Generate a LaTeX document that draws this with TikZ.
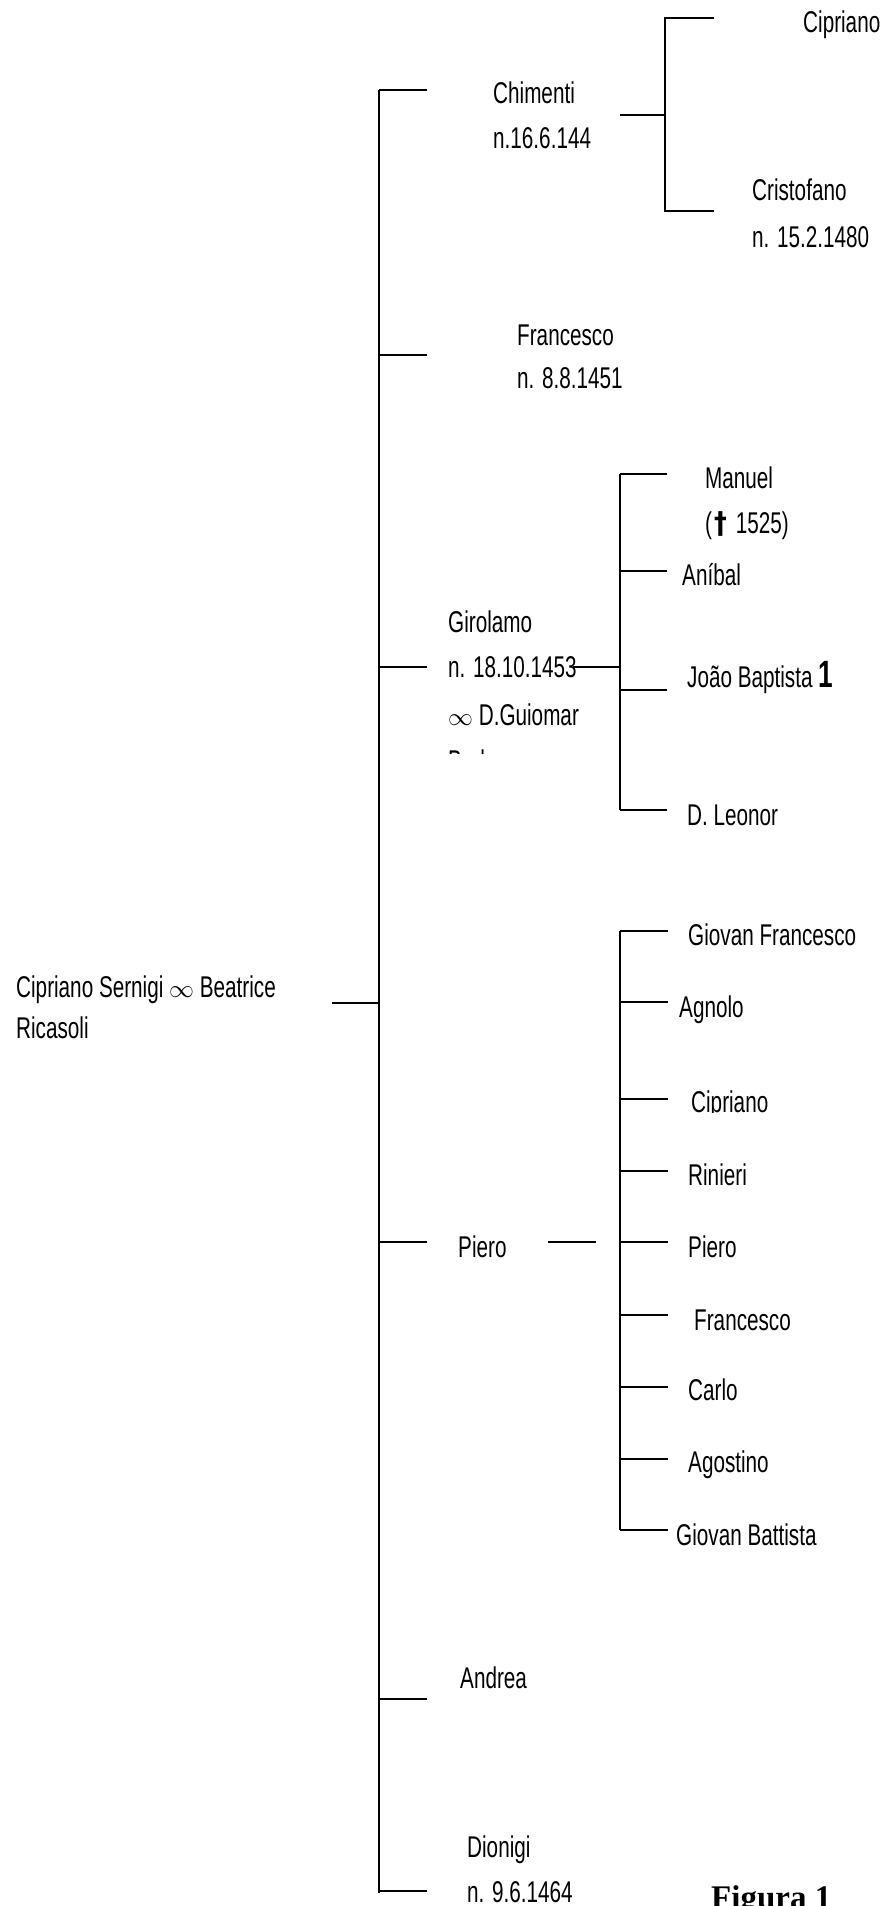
\documentclass[tikz,border=0pt]{standalone}
\usepackage{fontspec}
\setmainfont[FakeStretch=0.69]{Liberation Sans}
\newfontfamily\figfont{Liberation Serif}
\newfontfamily\crossfont[FakeStretch=0.85]{DejaVu Sans}
\begin{document}
\begin{tikzpicture}[x=1pt,y=-1pt,
  lbl/.style={anchor=base west, inner sep=0pt, font=\fontsize{30}{45}\selectfont},
  ln/.style={line width=1.6pt},
  vln/.style={line width=2pt}]
\useasboundingbox (0,0) rectangle (893,1906);

% ---------- texts ----------
\node[lbl] (root)  at (16,997)  {Cipriano Sernigi $\infty$ Beatrice};
\node[lbl] (rootb) at (16,1038) {Ricasoli};

\node[lbl] (chim)  at (493,103) {Chimenti};
\node[lbl] (chimb) at (493,148) {n.16.6.144};
\node[lbl] (cip1)  at (803,32)  {Cipriano};
\node[lbl] (cris)  at (752,200) {Cristofano};
\node[lbl] (crisb) at (752,247) {n. 15.2.1480};

\node[lbl] (fra)   at (517,345) {Francesco};
\node[lbl] (frab)  at (517,388) {n. 8.8.1451};

\node[lbl] (man)   at (705,488) {Manuel};
\node[lbl] (manb)  at (705,533) {(\kern2pt{\crossfont\bfseries\fontsize{30}{30}\selectfont †}\kern9pt 1525)};
\node[lbl] (ani)   at (682,585) {Aníbal};
\node[lbl] (gir)   at (448,632) {Girolamo};
\node[lbl] (girb)  at (448,677) {n. 18.10.1453};
\node[lbl] (girc)  at (448,725) {$\infty$ D.Guiomar};
\begin{scope}
  \clip (440,735) rectangle (620,753);
  \node[lbl] (gird) at (448,771) {Barbosa};
\end{scope}
\node[lbl] (joao)  at (687,687) {João Baptista {\bfseries\fontsize{38}{38}\selectfont 1}};
\node[lbl] (leo)   at (687,825) {D. Leonor};

\node[lbl] (pie)   at (458,1257) {Piero};
\node[lbl] (gf)    at (688,945)  {Giovan Francesco};
\node[lbl] (agn)   at (679,1017) {Agnolo};
\begin{scope}
  \clip (670,1070) rectangle (800,1112);
  \node[lbl] (cip2) at (691,1112) {Cipriano};
\end{scope}
\node[lbl] (rin)   at (688,1185) {Rinieri};
\node[lbl] (pie2)  at (688,1257) {Piero};
\node[lbl] (fra2)  at (694,1330) {Francesco};
\node[lbl] (car)   at (688,1400) {Carlo};
\node[lbl] (ago)   at (688,1472) {Agostino};
\node[lbl] (gb)    at (676,1545) {Giovan Battista};

\node[lbl] (and)   at (460,1688) {Andrea};
\node[lbl] (dio)   at (467,1857) {Dionigi};
\node[lbl] (diob)  at (467,1902) {n. 9.6.1464};

\node[anchor=base west, inner sep=0pt, font=\figfont\bfseries\fontsize{33}{33}\selectfont] (fig) at (711,1908) {Figura 1};

% ---------- coordinates ----------
\coordinate (rA) at (332,1003);
\coordinate (rB) at (379,1003);
\coordinate (mT) at (379,90);
\coordinate (mB) at (379,1893);
\foreach \n/\y in {c/90,f/355,g/667,p/1242,a/1699,d/1891}{
  \coordinate (m\n) at (379,\y);
  \coordinate (e\n) at (427,\y);
}
% Chimenti sub-bracket
\coordinate (cL1) at (620,115);
\coordinate (cL2) at (665,115);
\coordinate (cT)  at (665,18);
\coordinate (cB)  at (665,211);
\coordinate (cTe) at (714,18);
\coordinate (cBe) at (714,211);
% Girolamo sub-bracket
\coordinate (gL1) at (573,667);
\coordinate (gL2) at (620,667);
\coordinate (gT)  at (620,474);
\coordinate (gB)  at (620,810);
\foreach \n/\y in {1/474,2/571,3/690,4/810}{
  \coordinate (gs\n) at (620,\y);
  \coordinate (ge\n) at (667,\y);
}
% Piero sub-bracket
\coordinate (pL1) at (548,1242);
\coordinate (pL2) at (596,1242);
\coordinate (pT)  at (620,931);
\coordinate (pB)  at (620,1530);
\foreach \n/\y in {1/931,2/1002,3/1099,4/1171,5/1242,6/1315,7/1387,8/1459,9/1530}{
  \coordinate (ps\n) at (620,\y);
  \coordinate (pe\n) at (668,\y);
}

% ---------- lines ----------
\draw[vln] (mT) -- (mB);
\draw[ln] (rA) -- (rB);
\foreach \n in {c,f,g,p,a,d}{ \draw[ln] (m\n) -- (e\n); }

\draw[ln] (cL1) -- (cL2);
\draw[vln] (cTe) -- (cT) -- (cB) -- (cBe);

\draw[ln] (gL1) -- (gL2);
\draw[vln] (gT) -- (gB);
\foreach \n in {1,2,3,4}{ \draw[ln] (gs\n) -- (ge\n); }

\draw[ln] (pL1) -- (pL2);
\draw[vln] (pT) -- (pB);
\foreach \n in {1,...,9}{ \draw[ln] (ps\n) -- (pe\n); }
\end{tikzpicture}
\end{document}
